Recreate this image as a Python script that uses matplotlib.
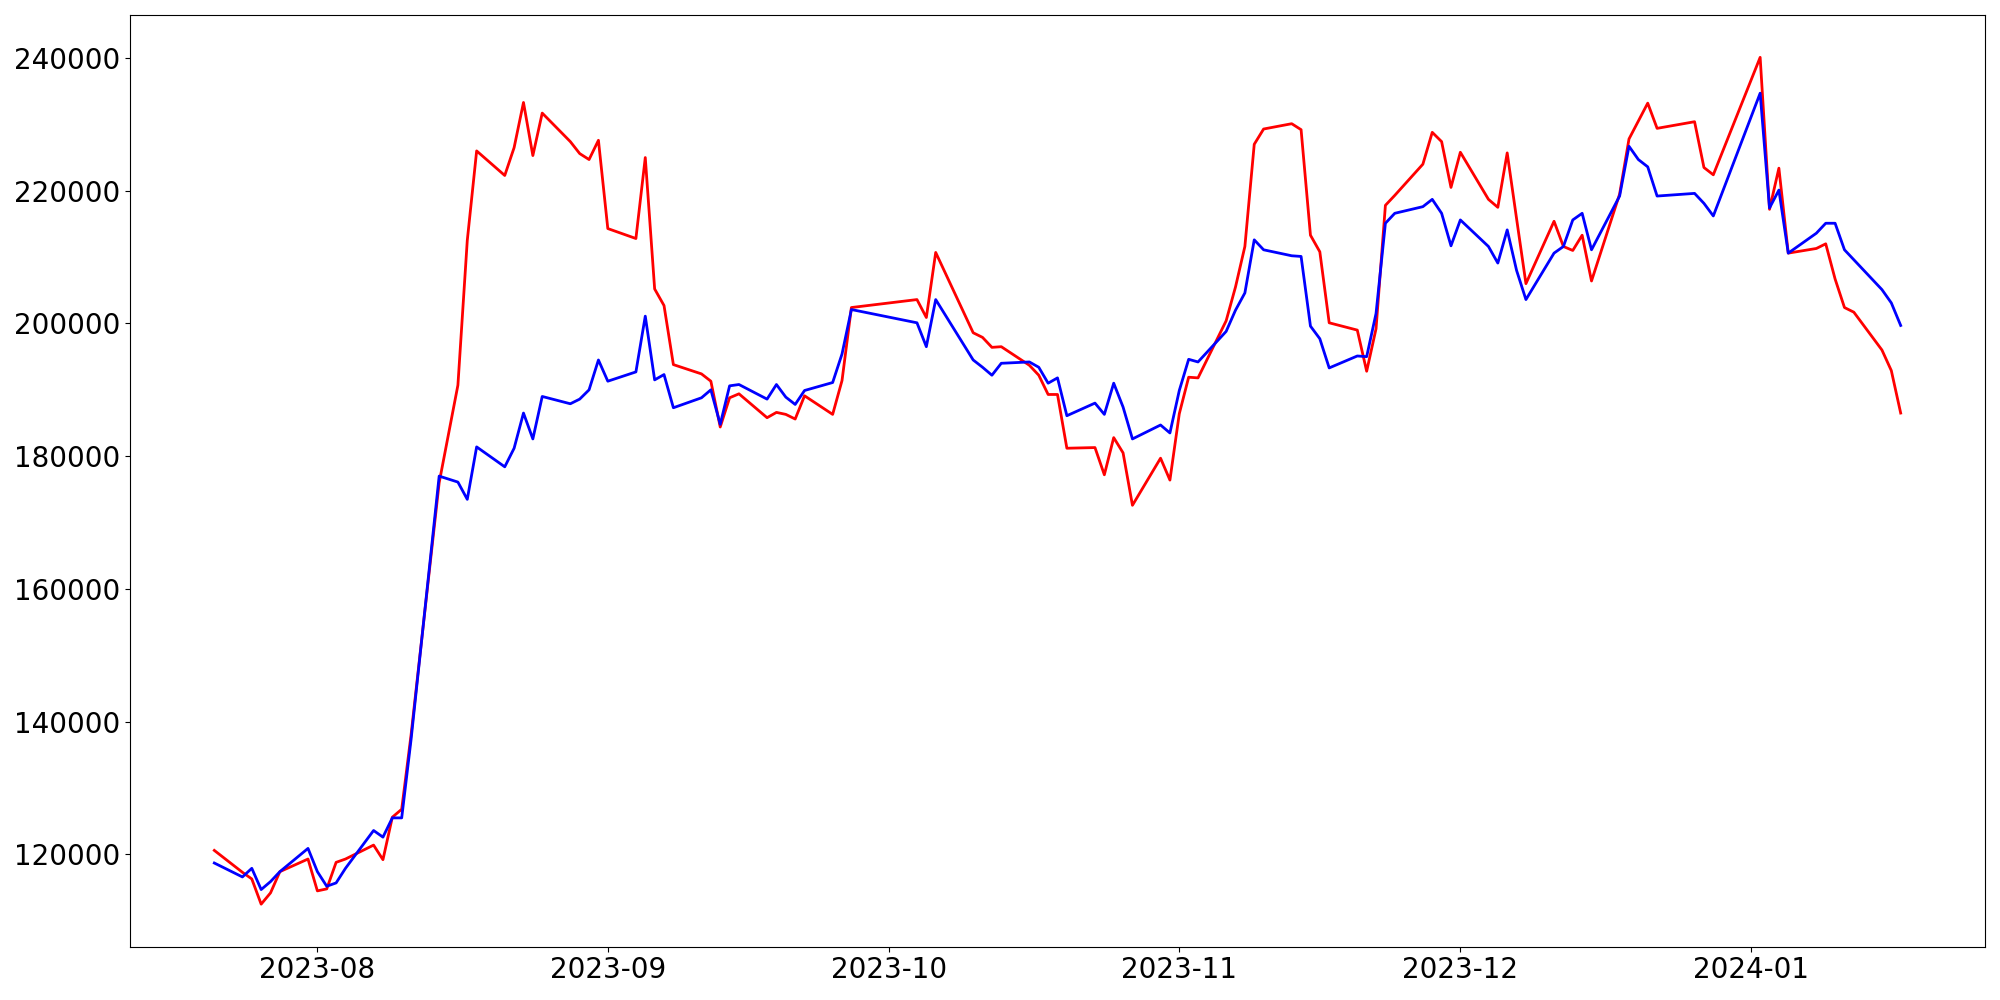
import numpy as np
import pandas as pd
import matplotlib
matplotlib.use("Agg")
import matplotlib.pyplot as plt

dates = pd.to_datetime([
    "2023-07-21", "2023-07-24", "2023-07-25", "2023-07-26", "2023-07-27", "2023-07-28",
    "2023-07-31", "2023-08-01", "2023-08-02", "2023-08-03", "2023-08-04",
    "2023-08-07", "2023-08-08", "2023-08-09", "2023-08-10", "2023-08-11",
    "2023-08-14", "2023-08-16", "2023-08-17", "2023-08-18",
    "2023-08-21", "2023-08-22", "2023-08-23", "2023-08-24", "2023-08-25",
    "2023-08-28", "2023-08-29", "2023-08-30", "2023-08-31", "2023-09-01",
    "2023-09-04", "2023-09-05", "2023-09-06", "2023-09-07", "2023-09-08",
    "2023-09-11", "2023-09-12", "2023-09-13", "2023-09-14", "2023-09-15",
    "2023-09-18", "2023-09-19", "2023-09-20", "2023-09-21", "2023-09-22",
    "2023-09-25", "2023-09-26", "2023-09-27",
    "2023-10-04", "2023-10-05", "2023-10-06",
    "2023-10-10", "2023-10-11", "2023-10-12", "2023-10-13",
    "2023-10-16", "2023-10-17", "2023-10-18", "2023-10-19", "2023-10-20",
    "2023-10-23", "2023-10-24", "2023-10-25", "2023-10-26", "2023-10-27",
    "2023-10-30", "2023-10-31", "2023-11-01", "2023-11-02", "2023-11-03",
    "2023-11-06", "2023-11-07", "2023-11-08", "2023-11-09", "2023-11-10",
    "2023-11-13", "2023-11-14", "2023-11-15", "2023-11-16", "2023-11-17",
    "2023-11-20", "2023-11-21", "2023-11-22", "2023-11-23", "2023-11-24",
    "2023-11-27", "2023-11-28", "2023-11-29", "2023-11-30", "2023-12-01",
    "2023-12-04", "2023-12-05", "2023-12-06", "2023-12-07", "2023-12-08",
    "2023-12-11", "2023-12-12", "2023-12-13", "2023-12-14", "2023-12-15",
    "2023-12-18", "2023-12-19", "2023-12-20", "2023-12-21", "2023-12-22",
    "2023-12-26", "2023-12-27", "2023-12-28",
    "2024-01-02", "2024-01-03", "2024-01-04", "2024-01-05",
    "2024-01-08", "2024-01-09", "2024-01-10", "2024-01-11", "2024-01-12",
    "2024-01-15", "2024-01-16", "2024-01-17",
])

red_values = [
    120600, 117300, 116300, 112500, 114200, 117400,
    119300, 114500, 114800, 118800, 119300,
    121400, 119200, 125600, 126800, 138000,
    176000, 190700, 212500, 226000,
    222300, 226500, 233300, 225300, 231700,
    227400, 225600, 224700, 227600, 214300,
    212800, 225000, 205200, 202700, 193800,
    192400, 191300, 184400, 188800, 189400,
    185800, 186600, 186300, 185600, 189100,
    186300, 191400, 202400,
    203600, 200900, 210700,
    198600, 197900, 196400, 196500,
    193700, 192200, 189300, 189300, 181200,
    181300, 177200, 182800, 180500, 172600,
    179700, 176400, 186400, 191900, 191800,
    200400, 205500, 211600, 227000, 229300,
    230100, 229200, 213300, 210800, 200100,
    199000, 192800, 199200, 217800, 219300,
    224000, 228800, 227400, 220500, 225800,
    218700, 217500, 225700, 215800, 206000,
    215400, 211600, 211000, 213300, 206400,
    219500, 227800, 230500, 233200, 229400,
    230400, 223500, 222400,
    240100, 217200, 223400, 210600,
    211300, 212000, 206700, 202400, 201700,
    196000, 192900, 186500,
]

blue_values = [
    118700, 116600, 117900, 114700, 115900, 117400,
    120900, 117400, 115200, 115700, 117900,
    123600, 122600, 125500, 125500, 137300,
    177000, 176100, 173500, 181400,
    178400, 181200, 186500, 182600, 189000,
    187900, 188600, 190000, 194500, 191300,
    192700, 201100, 191500, 192300, 187300,
    188800, 190000, 184800, 190600, 190800,
    188600, 190800, 188900, 187800, 189900,
    191100, 195400, 202100,
    200100, 196500, 203600,
    194500, 193400, 192200, 194000,
    194200, 193400, 191000, 191800, 186100,
    188000, 186300, 191000, 187400, 182600,
    184700, 183500, 189900, 194600, 194200,
    198800, 202000, 204600, 212600, 211100,
    210200, 210100, 199600, 197700, 193300,
    195100, 195000, 201500, 215100, 216600,
    217600, 218700, 216600, 211700, 215600,
    211600, 209100, 214100, 208000, 203600,
    210600, 211600, 215600, 216600, 211100,
    219200, 226700, 224700, 223600, 219200,
    219600, 218100, 216200,
    234700, 217400, 220100, 210600,
    213600, 215100, 215100, 211100, 209600,
    205100, 203100, 199700,
]

fig, ax = plt.subplots(figsize=(20, 10), dpi=100)

ax.plot(dates, red_values, color='red', linewidth=2)
ax.plot(dates, blue_values, color='blue', linewidth=2)

ax.tick_params(axis='both', labelsize=20)

plt.subplots_adjust(left=0.065, right=0.9925, bottom=0.0535, top=0.985)
plt.savefig('out.png')
